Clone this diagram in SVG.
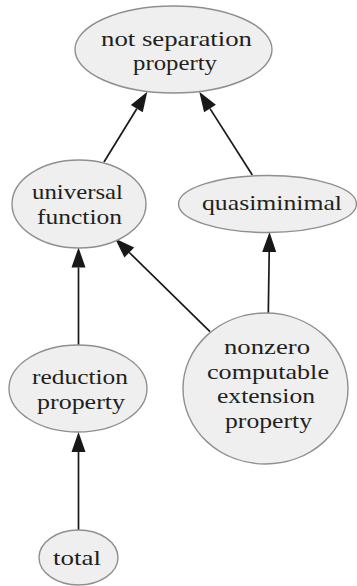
<svg xmlns="http://www.w3.org/2000/svg" width="357" height="586" viewBox="0 0 357 586">
<style>
.n ellipse{fill:#efefef;stroke:#8f8f8f;stroke-width:1.4}
.n text{font-family:"Liberation Serif","Times New Roman",serif;font-size:22px;fill:#231f20;text-anchor:middle}
.e line{stroke:#1a1718;stroke-width:1.7;fill:none}
</style>
<defs>
<marker id="ah" markerUnits="userSpaceOnUse" markerWidth="21" markerHeight="15" refX="0" refY="7" orient="auto" overflow="visible">
<path d="M0,0 L20,7 L0,14 z" fill="#1a1718"/>
</marker>
</defs>
<rect width="357" height="586" fill="#ffffff"/>
<g class="e" id="edges">
<line x1="104" y1="162" x2="136.8" y2="108.7" marker-end="url(#ah)"/>
<line x1="252.3" y1="175" x2="210" y2="108.6" marker-end="url(#ah)"/>
<line x1="78.5" y1="345" x2="78.5" y2="267.5" marker-end="url(#ah)"/>
<line x1="210" y1="331.7" x2="129.3" y2="252.5" marker-end="url(#ah)"/>
<line x1="268.3" y1="313" x2="269.2" y2="252" marker-end="url(#ah)"/>
<line x1="78.5" y1="530" x2="78.5" y2="452" marker-end="url(#ah)"/>
</g>
<g class="n" id="notsep">
<ellipse cx="173.5" cy="49.5" rx="98.5" ry="43.5"/>
<text x="176.5" y="45.5" textLength="151" lengthAdjust="spacingAndGlyphs">not separation</text>
<text x="175" y="70" textLength="84" lengthAdjust="spacingAndGlyphs">property</text>
</g>
<g class="n" id="universal">
<ellipse cx="79" cy="204" rx="67" ry="44"/>
<text x="77.5" y="199" textLength="91" lengthAdjust="spacingAndGlyphs">universal</text>
<text x="79.5" y="223.5" textLength="85" lengthAdjust="spacingAndGlyphs">function</text>
</g>
<g class="n" id="quasi">
<ellipse cx="267.5" cy="204" rx="89" ry="28.5"/>
<text x="272" y="210" textLength="140" lengthAdjust="spacingAndGlyphs">quasiminimal</text>
</g>
<g class="n" id="reduction">
<ellipse cx="78" cy="388.5" rx="69" ry="43.5"/>
<text x="80" y="384" textLength="96" lengthAdjust="spacingAndGlyphs">reduction</text>
<text x="81" y="408.5" textLength="88" lengthAdjust="spacingAndGlyphs">property</text>
</g>
<g class="n" id="nonzero">
<ellipse cx="265.5" cy="388.5" rx="82.5" ry="75.5"/>
<text x="267" y="354" textLength="86" lengthAdjust="spacingAndGlyphs">nonzero</text>
<text x="268" y="378.5" textLength="122" lengthAdjust="spacingAndGlyphs">computable</text>
<text x="266" y="403" textLength="98" lengthAdjust="spacingAndGlyphs">extension</text>
<text x="268.5" y="427.5" textLength="87" lengthAdjust="spacingAndGlyphs">property</text>
</g>
<g class="n" id="total">
<ellipse cx="78.5" cy="557.5" rx="39.5" ry="27.5"/>
<text x="77" y="565" textLength="48" lengthAdjust="spacingAndGlyphs">total</text>
</g>
</svg>
